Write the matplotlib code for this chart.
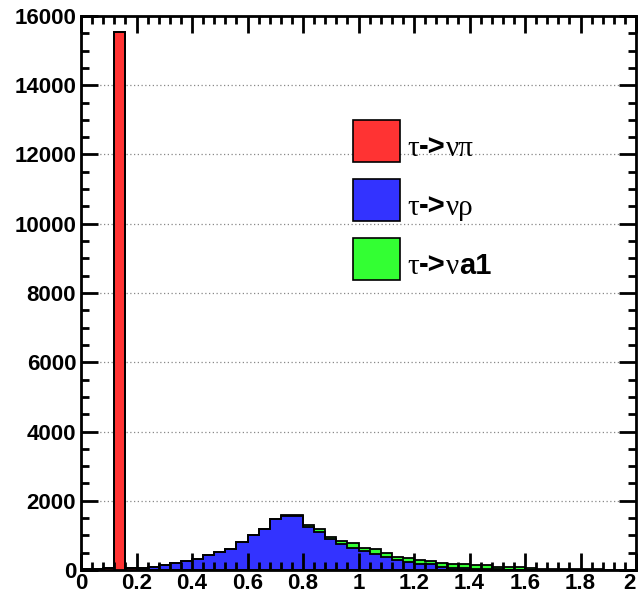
import numpy as np
import matplotlib
matplotlib.use("Agg")
import matplotlib.pyplot as plt
from matplotlib import font_manager
from matplotlib.patches import Rectangle
from matplotlib.ticker import MultipleLocator, FuncFormatter
from matplotlib.offsetbox import TextArea, DrawingArea, HPacker, VPacker, AnchoredOffsetbox

# visible mass, 50 bins of 0.04 from 0 to 2
edges = np.linspace(0, 2, 51)

pi_counts = [30, 20, 60, 15550, 65] + [0] * 45

rho_counts = [0, 0, 0, 0, 0,
              45, 95, 155, 210, 260, 315, 420, 530, 615, 805,
              1000, 1190, 1475, 1565, 1565, 1250, 1100, 886, 742, 626,
              549, 462, 366, 289, 221, 164, 164, 96, 67, 50,
              30, 25, 15, 10, 7, 5, 5, 4, 3, 3,
              2, 2, 2, 1, 1]

a1_counts = [0] * 15 + [5, 5, 8, 10, 12,
                        40, 90, 77, 105, 144, 96, 135, 115, 96, 116,
                        125, 96, 97, 97, 114, 114, 110, 85, 86, 70,
                        43, 33, 28, 25, 20, 18, 15, 12, 10, 8]

pi_counts = np.array(pi_counts, dtype=float)
rho_counts = np.array(rho_counts, dtype=float)
a1_counts = np.array(a1_counts, dtype=float)

labels = [
    [("τ", "serif"), ("->", "sans"), ("νπ", "serif")],
    [("τ", "serif"), ("->", "sans"), ("νρ", "serif")],
    [("τ", "serif"), ("->", "sans"), ("ν", "serif"), ("a1", "sans")],
]
colors = ["#ff3333", "#3333ff", "#33ff33"]

installed = {f.name for f in font_manager.fontManager.ttflist}
sans = "Liberation Sans Narrow" if "Liberation Sans Narrow" in installed else "Liberation Sans"
plt.rcParams["font.family"] = [sans, "DejaVu Sans"]
plt.rcParams["font.weight"] = "bold"

fig = plt.figure(figsize=(6.41, 6.01), dpi=100)
ax = fig.add_axes([81 / 641, 31 / 601, 555 / 641, 554 / 601])

# stacked: draw the sums from the top down, each with a black outline
stack = [(pi_counts + rho_counts + a1_counts, colors[2]),
         (pi_counts + rho_counts, colors[1]),
         (pi_counts, colors[0])]
for vals, c in stack:
    ax.stairs(vals, edges, fill=True, color=c, zorder=1)
    ax.stairs(vals, edges, color="black", lw=1.3, zorder=1.1)

ax.set_xlim(0, 2)
ax.set_ylim(0, 16000)
ax.xaxis.set_major_locator(MultipleLocator(0.2))
ax.xaxis.set_minor_locator(MultipleLocator(0.04))
ax.yaxis.set_major_locator(MultipleLocator(2000))
ax.yaxis.set_minor_locator(MultipleLocator(500))
ax.xaxis.set_major_formatter(FuncFormatter(lambda v, p: "%g" % round(v, 2)))
ax.yaxis.set_major_formatter(FuncFormatter(lambda v, p: "%d" % v))

ax.tick_params(which="both", direction="in", top=True, right=True,
               width=2, labelsize=16)
ax.tick_params(which="major", length=12)
ax.tick_params(which="minor", length=6)
ax.tick_params(axis="x", pad=2.5)
ax.tick_params(axis="y", pad=3.5)
for s in ax.spines.values():
    s.set_linewidth(2)

# dotted horizontal grid under the histograms
for y in np.arange(2000, 16000, 2000):
    ax.axhline(y, color="#888888", lw=0.9, ls=(0, (1, 2)), zorder=0.5)

# legend: colour box followed by mixed-font text
rows = []
for color, parts in zip(colors, labels):
    da = DrawingArea(34, 30, 0, 0)
    da.add_artist(Rectangle((0, 0), 34, 30, fc=color, ec="black", lw=1.2))
    pieces = []
    for s, kind in parts:
        if kind == "serif":
            props = dict(family="Liberation Serif", weight="normal", size=21)
        else:
            props = dict(family=sans, weight="bold", size=21)
        pieces.append(TextArea(s, textprops=props))
    text_row = HPacker(children=pieces, align="baseline", pad=0, sep=0)
    rows.append(HPacker(children=[da, text_row], align="bottom", pad=0, sep=5))
box = VPacker(children=rows, align="left", pad=0, sep=12.5)
anchored = AnchoredOffsetbox(loc="upper left", child=box, pad=0, borderpad=0,
                             frameon=False, bbox_to_anchor=(353 / 641, 1 - 120 / 601),
                             bbox_transform=fig.transFigure)
ax.add_artist(anchored)

# keep the last x label inside the canvas
fig.canvas.draw()
for lbl in ax.get_xticklabels():
    if lbl.get_text() == "2":
        lbl.set_horizontalalignment("right")
        lbl.set_x(2.0)

fig.savefig("out.png", dpi=100)
